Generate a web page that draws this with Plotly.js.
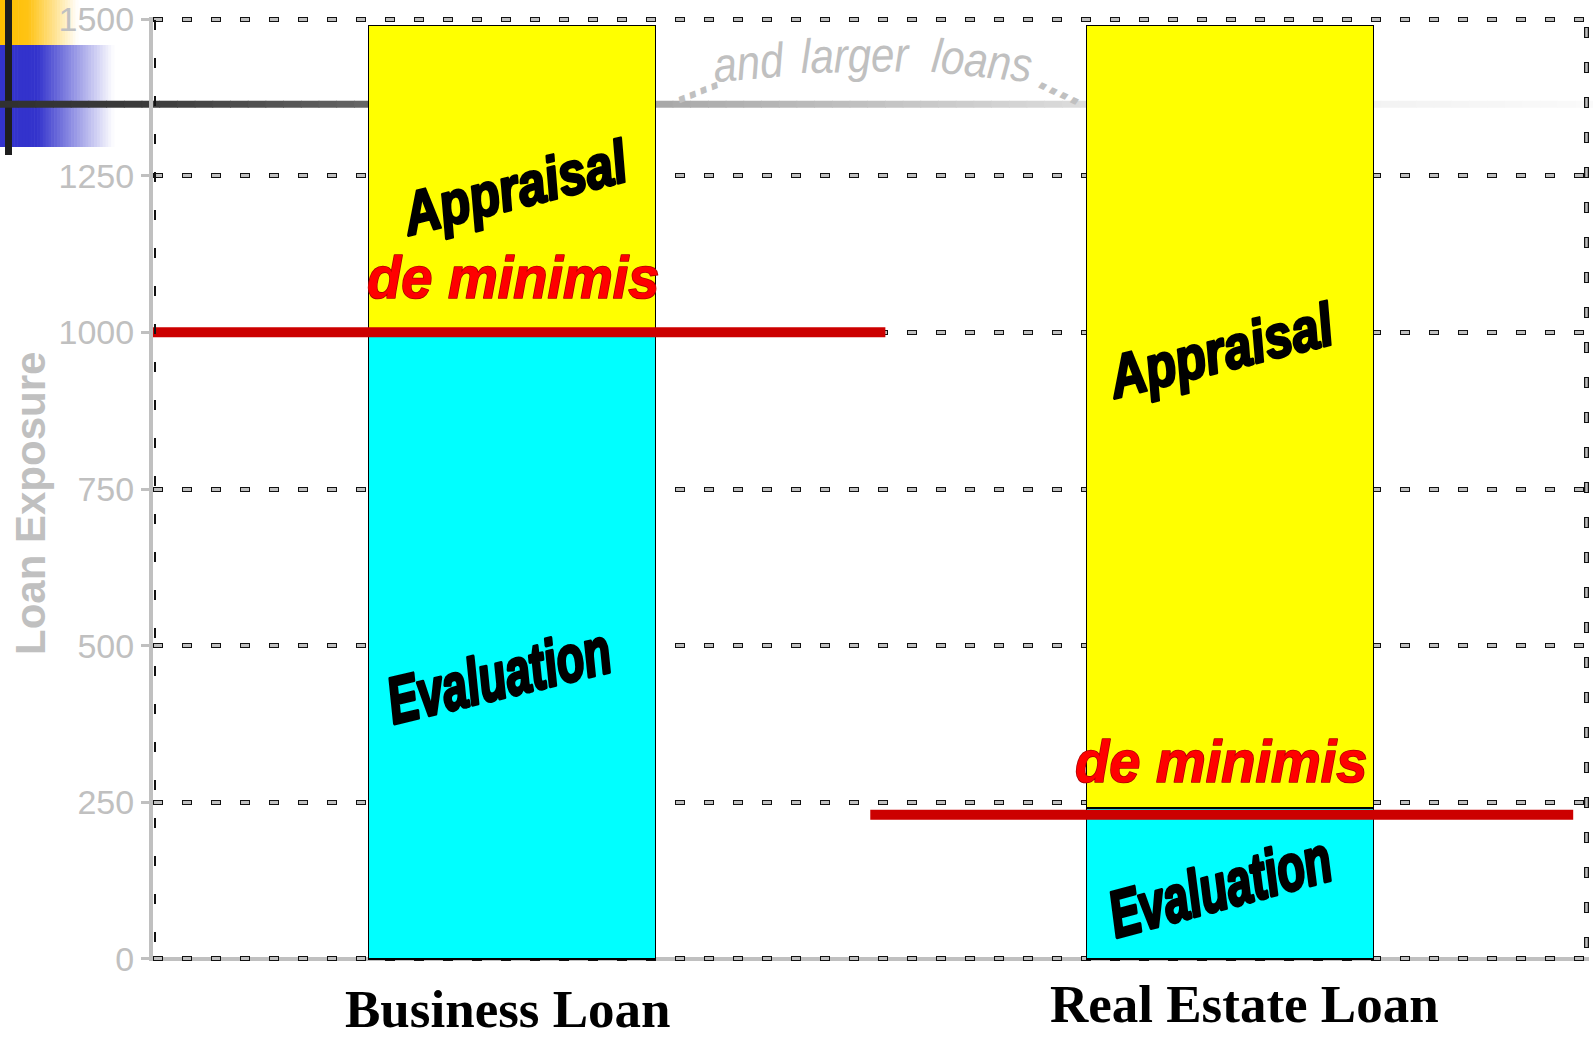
<!DOCTYPE html>
<html><head><meta charset="utf-8">
<script src="https://cdn.plot.ly/plotly-3.0.1.min.js"></script>
<style>html,body{margin:0;padding:0;background:#fff;overflow:hidden;} #chart{width:1593px;height:1040px;}</style>
<style id="wordart"></style>
</head><body><div id="chart"></div>
<script>
// ---------------- data ----------------
const categories = ['Business Loan', 'Real Estate Loan'];
const evaluationValues = [1000, 241];
const appraisalValues = [490, 1249];
const deMinimisLevels = [1000, 230];
const largerLoansLevel = 1364;
const yTickValues = [0, 250, 500, 750, 1000, 1250, 1500];
const yTickLabels = ['0', '250', '500', '750', '1000', '1250', '1500'];

// ---------------- geometry / style ----------------
const W = 1593, H = 1040, M = {l: 153, r: 4, t: 17, b: 79};
const PW = W - M.l - M.r, PH = H - M.t - M.b;
const Y_RANGE = [-3.2, 1503.2];
const px = x => (x - M.l) / PW;          // pixel -> paper x
const py = y => (H - M.b - y) / PH;      // pixel -> paper y
const catX = categories.map((c, i) => i);
const deMinimisSpan = [[-0.506, 0.52], [-0.501, 0.478]];
const GRAY = '#c0c0c0';
const sansFamily = "'Liberation Sans', Arial, sans-serif";
const serifFamily = "'Liberation Serif', 'Times New Roman', serif";

function hex(v) { v = Math.max(0, Math.min(255, Math.round(v))); return v.toString(16).padStart(2, '0'); }
function interp(stops, t) {
  for (let i = 0; i < stops.length - 1; i++) {
    const a = stops[i], b = stops[i + 1];
    if (t >= a[0] && t <= b[0]) {
      const f = (t - a[0]) / (b[0] - a[0] || 1);
      return a.slice(1).map((c, k) => c + (b[k + 1] - c) * f);
    }
  }
  return stops[stops.length - 1].slice(1);
}
const rgb = c => '#' + c.map(hex).join('');

const shapes = [];
function hGradientBox(x0, x1, y0, y1, stops, n) {
  for (let i = 0; i < n; i++) {
    const a = x0 + (x1 - x0) * i / n, b = x0 + (x1 - x0) * (i + 1) / n;
    shapes.push({type: 'rect', layer: 'below', xref: 'paper', yref: 'paper',
      x0: px(a), x1: px(b + 0.6), y0: py(y1), y1: py(y0),
      fillcolor: rgb(interp(stops, (a + b) / 2)), line: {width: 0}});
  }
}
// top-left template decoration
hGradientBox(0, 78, 0, 45, [[0, 255, 192, 0], [28, 255, 195, 20], [78, 255, 255, 255]], 30);
hGradientBox(0, 114, 45, 147, [[0, 51, 51, 204], [37, 51, 51, 204], [114, 255, 255, 255]], 40);
shapes.push({type: 'rect', layer: 'below', xref: 'paper', yref: 'paper',
  x0: px(5), x1: px(12), y0: py(155), y1: py(0), fillcolor: '#1e1e1e', line: {width: 0}});
// gradient horizontal line ("larger loans" level)
const lineStops = [[0, 48, 48, 48], [150, 60, 60, 60], [370, 102, 102, 102], [660, 168, 168, 168],
  [1085, 220, 220, 220], [1375, 242, 242, 242], [1593, 250, 250, 250]];
const NSEG = 90;
for (let i = 0; i < NSEG; i++) {
  const a = W * i / NSEG, b = W * (i + 1) / NSEG;
  shapes.push({type: 'line', layer: 'below', xref: 'paper', yref: 'y',
    x0: px(a), x1: px(b + 0.8), y0: largerLoansLevel, y1: largerLoansLevel,
    line: {color: rgb(interp(lineStops, (a + b) / 2)), width: 7}});
}
// bottom axis line (gray) beneath the dashed zero grid
shapes.push({type: 'line', layer: 'below', xref: 'paper', yref: 'y',
  x0: px(149), x1: 1, y0: 0, y1: 0, line: {color: GRAY, width: 4}});
// black dashes over the left axis line
shapes.push({type: 'line', layer: 'above', xref: 'paper', yref: 'paper',
  x0: px(155), x1: px(155), y0: py(20), y1: py(959), line: {color: '#111', width: 2, dash: '10px,28px'}});
// right edge dashed markers
const rx = 1 - 2.5 / PW;
shapes.push({type: 'line', layer: 'above', xref: 'paper', yref: 'paper',
  x0: rx, x1: rx, y0: py(27), y1: py(959), line: {color: '#111', width: 5, dash: '11px,24px'}});
shapes.push({type: 'line', layer: 'above', xref: 'paper', yref: 'paper',
  x0: rx, x1: rx, y0: py(27), y1: py(959), line: {color: GRAY, width: 2.5, dash: '0px,1px,9px,25px'}});

// ---------------- traces ----------------
const traces = [
  {type: 'bar', name: 'Evaluation', x: catX, y: evaluationValues, width: 0.4,
   marker: {color: '#00FFFF', line: {color: '#000', width: 1.5}}, hoverinfo: 'skip'},
  {type: 'bar', name: 'Appraisal', x: catX, y: appraisalValues, width: 0.4,
   marker: {color: '#FFFF00', line: {color: '#000', width: 1.5}}, hoverinfo: 'skip'}
];
deMinimisLevels.forEach((lvl, i) => {
  traces.push({type: 'scatter', mode: 'lines', yaxis: 'y2', name: 'de minimis',
    x: [catX[i] + deMinimisSpan[i][0], catX[i] + deMinimisSpan[i][1]], y: [lvl, lvl],
    line: {color: '#CC0000', width: 10}, hoverinfo: 'skip', cliponaxis: false});
});

// ---------------- annotations ----------------
const ann = [];
const css = [];
function txt(text, x, y, font, opts, extraCss) {
  const idx = ann.length;
  ann.push(Object.assign({text: text, xref: 'paper', yref: 'paper', x: px(x), y: py(y),
    xanchor: 'center', yanchor: 'middle', showarrow: false, font: font}, opts || {}));
  if (extraCss) css.push('.annotation[data-index="' + idx + '"] text.annotation-text{' + extraCss + '}');
}
const blackArt = s => ({family: sansFamily, size: s, color: '#000', weight: 'bold', style: 'italic'});
const redArt = s => ({family: sansFamily, size: s, color: '#FF0000', weight: 'bold', style: 'italic'});
const grayItalic = (s, w) => ({family: sansFamily, size: s, color: GRAY, weight: w || 'normal', style: 'italic'});
const stretch = k => 'transform-box:fill-box;transform-origin:center;transform:scaleY(' + k + ');';
const heavy = (c, w) => 'stroke:' + c + ';stroke-width:' + w + 'px;stroke-linejoin:round;paint-order:stroke fill;';

txt('Appraisal', 514, 188, blackArt(50), {textangle: -14}, stretch(1.2) + heavy('#000', 2.4));
txt('de minimis', 513, 277, redArt(56), {}, stretch(1.05) + heavy('#b00000', 1.6));
txt('Evaluation', 499, 675, blackArt(45), {textangle: -13.5}, stretch(1.45) + heavy('#000', 2.4));
txt('Appraisal', 1220, 351, blackArt(50), {textangle: -14}, stretch(1.2) + heavy('#000', 2.4));
txt('de minimis', 1221, 761, redArt(56), {}, stretch(1.05) + heavy('#b00000', 1.6));
txt('Evaluation', 1220, 886, blackArt(45), {textangle: -15}, stretch(1.45) + heavy('#000', 2.4));
// "....and larger loans...."
txt('....', 695, 82, grayItalic(42, 'bold'), {textangle: -22});
txt('and', 749, 62, grayItalic(42), {textangle: -5}, stretch(1.15));
txt('larger', 855, 55, grayItalic(42), {textangle: -1}, stretch(1.15));
txt('loans', 982, 60, grayItalic(42), {textangle: 6}, stretch(1.15));
txt('....', 1064, 84, grayItalic(42, 'bold'), {textangle: 25});
// y axis title
txt('Loan Exposure', 30, 504, {family: sansFamily, size: 42, color: GRAY, weight: 'bold'}, {textangle: -90});
// category labels
const labelCenters = [[508, 1009], [1244, 1004]];
categories.forEach((c, i) => {
  txt(c, labelCenters[i][0], labelCenters[i][1], {family: serifFamily, size: 53, color: '#000', weight: 'bold'});
});
document.getElementById('wordart').textContent = css.join('\n');

// ---------------- layout ----------------
const layout = {
  width: W, height: H, margin: M,
  paper_bgcolor: '#ffffff', plot_bgcolor: 'rgba(0,0,0,0)',
  barmode: 'stack', showlegend: false, hovermode: false,
  xaxis: {range: [-0.5, 1.5], showgrid: false, zeroline: false, showline: false,
          tickvals: catX, ticktext: categories, showticklabels: false, ticks: '', fixedrange: true},
  yaxis: {range: Y_RANGE, autorange: false, tickvals: yTickValues, ticktext: yTickLabels,
          showgrid: true, gridcolor: '#111111', gridwidth: 5, griddash: '10px,19px',
          zeroline: false, showline: true, linecolor: GRAY, linewidth: 4,
          ticks: 'outside', ticklen: 8, tickwidth: 3, tickcolor: GRAY, ticklabeloverflow: 'allow',
          tickfont: {family: sansFamily, size: 34, color: GRAY}, fixedrange: true},
  yaxis2: {range: Y_RANGE, autorange: false, overlaying: 'y', anchor: 'x', side: 'left',
           tickvals: yTickValues, showgrid: true, gridcolor: GRAY, gridwidth: 3,
           griddash: '0px,1.2px,7.6px,20.2px', zeroline: false, showline: false,
           showticklabels: false, ticks: '', fixedrange: true},
  shapes: shapes, annotations: ann
};
Plotly.newPlot('chart', traces, layout, {staticPlot: true, displayModeBar: false});
</script></body></html>
